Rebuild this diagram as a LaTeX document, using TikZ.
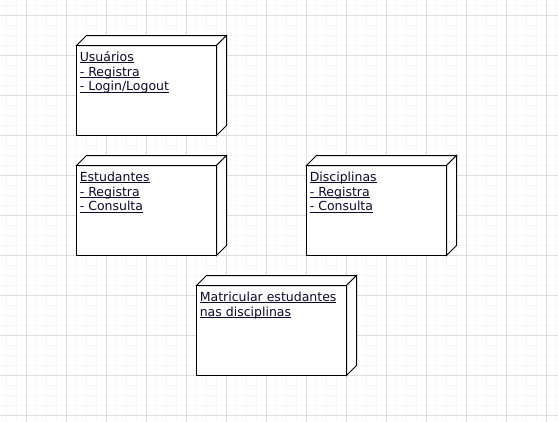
\documentclass[tikz,border=0pt]{standalone}
\usepackage{fontspec}
\setmainfont{DejaVu Sans}
\usetikzlibrary{calc}

\definecolor{gridmajor}{HTML}{DEDEDE}
\definecolor{gridminor}{HTML}{F6F6F6}
\definecolor{labelink}{HTML}{0A0A30}

% underlined label text: the rule runs under the whole line at a fixed depth
\newcommand{\ulabel}[1]{\setbox0=\hbox{#1}\rlap{\rule[-2bp]{\wd0}{1bp}}\box0}

\tikzset{
  minorline/.style={draw=gridminor, line width=1bp},
  majorline/.style={draw=gridmajor, line width=1bp},
  nodebox/.style={draw=black, fill=white, line width=1bp, outer sep=0pt,
    inner sep=0pt, anchor=north west, minimum height=90bp},
  nodeside/.style={draw=black, fill=white, line width=1bp, line join=miter},
  boxlabel/.style={anchor=base west, inner sep=0pt, outer sep=0pt,
    text=labelink, font=\fontsize{12.5bp}{14.7bp}\selectfont},
}

% a UML deployment node: front face plus the top and right faces
\newcommand{\depthfaces}[1]{%
  \filldraw[nodeside] (#1.north west) -- ++(10,-10) -- ($(#1.north east)+(10,-10)$)
    -- (#1.north east) -- cycle;
  \filldraw[nodeside] (#1.north east) -- ++(10,-10) -- ($(#1.south east)+(10,-10)$)
    -- (#1.south east) -- cycle;
}

\begin{document}
\begin{tikzpicture}[x=1bp, y=-1bp]
  \useasboundingbox (0,0) rectangle (558,421);
  \fill[white] (0,0) rectangle (558,421);

  \begin{scope}[shift={(0.5,0.5)}]
    % background grid
    \foreach \gx in {6,16,...,556} \draw[minorline] (\gx,-1) -- (\gx,422);
    \foreach \gy in {5,15,...,415} \draw[minorline] (-1,\gy) -- (559,\gy);
    \foreach \gx in {26,66,...,546} \draw[majorline] (\gx,-1) -- (\gx,422);
    \foreach \gy in {15,55,...,415} \draw[majorline] (-1,\gy) -- (559,\gy);

    % deployment nodes
    \node[nodebox, minimum width=140bp] (usr) at (76,45) {};
    \depthfaces{usr}
    \node[nodebox, minimum width=140bp] (est) at (76,165) {};
    \depthfaces{est}
    \node[nodebox, minimum width=140bp] (dis) at (306,165) {};
    \depthfaces{dis}
    \node[nodebox, minimum width=150bp] (mat) at (196,285) {};
    \depthfaces{mat}
  \end{scope}

  % Usuários
  \node[boxlabel] (usr1) at (79.8,61.3) {\ulabel{Usuários}};
  \node[boxlabel] (usr2) at (79.8,76.0) {\ulabel{- Registra}};
  \node[boxlabel] (usr3) at (79.8,90.7) {\ulabel{- Login/Logout}};

  % Estudantes
  \node[boxlabel] (est1) at (79.8,181.3) {\ulabel{Estudantes}};
  \node[boxlabel] (est2) at (79.8,196.0) {\ulabel{- Registra}};
  \node[boxlabel] (est3) at (79.8,210.7) {\ulabel{- Consulta}};

  % Disciplinas
  \node[boxlabel] (dis1) at (309.8,181.3) {\ulabel{Disciplinas}};
  \node[boxlabel] (dis2) at (309.8,196.0) {\ulabel{- Registra}};
  \node[boxlabel] (dis3) at (309.8,210.7) {\ulabel{- Consulta}};

  % Matricular estudantes nas disciplinas
  \node[boxlabel] (mat1) at (199.8,301.3) {\ulabel{Matricular estudantes}};
  \node[boxlabel] (mat2) at (199.8,316.0) {\ulabel{nas disciplinas}};
\end{tikzpicture}
\end{document}
